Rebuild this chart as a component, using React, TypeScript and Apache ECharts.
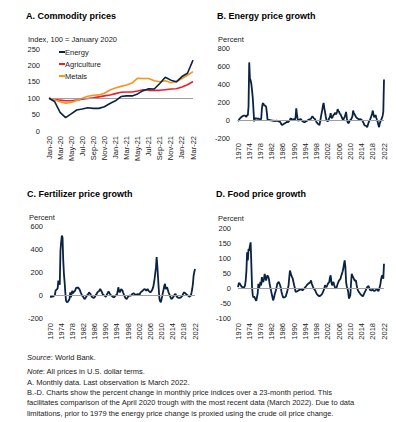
import React, { useEffect, useRef } from "react";
import * as echarts from "echarts";

// Panel A: monthly, Jan-20 .. Mar-22
const monthsA = [
  "Jan-20", "Feb-20", "Mar-20", "Apr-20", "May-20", "Jun-20", "Jul-20", "Aug-20", "Sep-20", "Oct-20", "Nov-20", "Dec-20",
  "Jan-21", "Feb-21", "Mar-21", "Apr-21", "May-21", "Jun-21", "Jul-21", "Aug-21", "Sep-21", "Oct-21", "Nov-21", "Dec-21",
  "Jan-22", "Feb-22", "Mar-22",
];
const energyA = [100, 90, 57, 41, 52, 64, 67, 71, 69, 69, 74, 84, 92, 105, 107, 107, 113, 123, 129, 128, 145, 164, 155, 150, 166, 176, 216];
const agricultureA = [100, 97, 94, 92, 92, 94, 97, 99, 101, 104, 107, 110, 114, 118, 119, 119, 122, 126, 124, 124, 124, 126, 128, 129, 134, 141, 151];
const metalsA = [100, 95, 89, 85, 87, 93, 100, 106, 109, 110, 115, 125, 131, 136, 140, 146, 161, 160, 160, 153, 150, 153, 147, 150, 160, 170, 181];

// Panels B-D: quarterly, 1970Q1 .. 2022Q1 (percent change over 23 months)
const startYear = 1970;
const endYear = 2022;

const energyGrowth = [
  -10, -5, 10, 20, 25, 35, 40, 45, 45, 50, 48, 40, 35, 55, 50, 150,
  640, 460, 440, 400, 330, 250, 120, -15, 10, 20, 18, 15, 12, 15, 12, 10,
  10, 8, 120, 180, 185, 170, 160, 155, 150, 90, 10, 0, 0, 2, -5, -5,
  -5, -8, -10, -8, -10, -12, -10, -8, -10, -12, -15, -15, -20, -35, -50, -55,
  -50, -45, -40, -35, -30, -25, -20, -25, -20, -10, 0, 20, 10, 5, 0, 10,
  5, 0, 30, 130, 60, 10, -10, 0, 5, 10, 5, -5, -15, -20, -20, -25,
  -20, -15, -10, -5, 0, 5, 5, 10, 15, 30, 40, 30, 20, 15, 5, -10,
  -25, -35, -45, -50, -55, -20, 30, 70, 110, 160, 190, 130, 90, 40, 0, -10,
  -15, 0, 20, 35, 75, 30, 20, 40, 55, 60, 80, 70, 65, 90, 120, 100,
  90, 70, 65, 45, 30, 10, 0, 20, 35, 60, 90, 20, -20, -35, -30, -10,
  0, 5, 5, 40, 105, 80, 65, 50, 37, 25, 20, 15, 8, 5, 10, 8,
  0, -5, -20, -35, -55, -60, -65, -70, -80, -55, -30, -10, 0, 20, 45, 70,
  105, 60, 30, 40, 55, 25, 0, -20, -55, -80, -35, -15, 0, 20, 45, 90,
  450,
];

const fertilizerGrowth = [
  -15, -15, -15, -12, -15, -10, -5, 0, 38, 45, 50, 60, 125, 110, 90, 385,
  460, 516, 500, 300, 183, 110, 20, -50, -60, -63, -55, -45, -35, 23, -20, 10,
  38, 15, 25, 30, 38, 55, 67, 60, 67, 60, 52, 40, 23, 10, -5, -10,
  -20, -30, -35, -25, -15, -5, 3, 10, 23, 15, 10, -5, -15, -20, -25, -25,
  -20, -10, 3, 10, 23, 28, 32, 40, 52, 40, 32, 15, 3, 0, -5, -10,
  -15, -5, 10, 20, 32, 20, 10, 0, -5, -10, -15, -18, -20, -12, -5, 0,
  3, 30, 67, 40, 23, 35, 52, 45, 38, 20, 3, -10, -25, -30, -35, -25,
  -15, -10, -5, -5, -5, 0, 10, 12, 15, 10, 3, 3, 3, 5, 10, 3,
  -5, 10, 23, 28, 32, 38, 45, 50, 52, 45, 38, 45, 52, 40, 32, 28,
  23, 30, 38, 50, 67, 100, 140, 190, 240, 330, 250, 150, 52, -35, -55, -64,
  -35, -10, 23, 50, 81, 96, 52, 60, 67, 45, 23, 10, -5, -20, -35, -30,
  -25, -15, -5, 5, 10, -5, -15, -20, -25, -25, -25, -22, -20, -12, -5, 10,
  23, 20, 15, 10, 3, 0, -5, -10, -15, -10, -5, 20, 52, 96, 168, 200,
  226,
];

const foodGrowth = [
  3, 14, 17, 12, 9, 5, 3, 2, 1, 3, 9, 25, 58, 119, 92, 130,
  125, 141, 152, 80, 3, -24, -32, -28, -28, -39, -43, -30, -19, 14, -2, 10,
  20, 9, 36, 25, 20, 31, 47, 35, 25, 35, 42, 38, 31, 15, 3, -8,
  -19, -30, -41, -35, -24, -15, -8, 3, 14, 18, 20, 15, 9, 0, -13, -22,
  -30, -32, -32, -30, -28, -20, -13, -3, 9, 35, 58, 50, 42, 36, 31, 20,
  9, 0, -13, -12, -11, -10, -8, -7, -6, -5, -4, -6, -8, -5, -2, 0,
  3, 6, 9, 12, 14, 16, 17, 20, 25, 15, 9, 3, -2, -5, -8, -14,
  -19, -22, -24, -26, -28, -26, -24, -22, -19, -14, -8, 0, 9, 5, 3, 8,
  14, 17, 20, 35, 42, 20, 9, 15, 20, 10, 3, 0, -2, 6, 14, 20,
  25, 28, 31, 40, 47, 55, 64, 80, 92, 70, 20, 5, -2, -13, -35, -30,
  -24, 14, 47, 40, 36, 31, 25, 25, 25, 10, -2, -8, -13, -16, -19, -22,
  -24, -26, -28, -22, -17, -12, -8, -2, 3, 5, 6, 0, -6, -7, -8, -7,
  -6, -8, -10, -9, -8, -5, -2, -6, -11, -4, 3, 15, 31, 40, 42, 31,
  81,
];

const quarters: string[] = [];
for (let y = startYear; y <= endYear; y++) {
  for (let q = 1; q <= 4; q++) {
    if (y === endYear && q > 1) break;
    quarters.push(`${y}Q${q}`);
  }
}

const FONT = "Liberation Sans, Arial, Helvetica, sans-serif";
const NAVY = "#0B2343";
const RED = "#E8202E";
const ORANGE = "#F7941D";
const GRAY = "#9E9E9E";
const TXT = "#1a1a1a";

function yAxisCfg(gridIndex: number, min: number, max: number, interval: number, margin: number) {
  return {
    type: "value",
    gridIndex,
    min,
    max,
    interval,
    axisLine: { show: false },
    axisTick: { show: false },
    splitLine: { show: false },
    axisLabel: { fontSize: 7.5, color: TXT, fontFamily: FONT, margin },
  };
}

function xAxisQuarterCfg(gridIndex: number) {
  return {
    type: "category",
    gridIndex,
    data: quarters,
    boundaryGap: false,
    axisLine: { show: false, onZero: false },
    axisTick: { show: false },
    axisLabel: {
      interval: 15,
      rotate: 90,
      fontSize: 7.5,
      color: TXT,
      fontFamily: FONT,
      margin: 5,
      formatter: (v: string) => v.slice(0, 4),
    },
  };
}

function refLine(value: number) {
  return {
    silent: true,
    symbol: "none",
    label: { show: false },
    lineStyle: { color: GRAY, width: 1, type: "solid" },
    data: [{ yAxis: value }],
  };
}

function growthSeries(idx: number, data: number[]) {
  return {
    type: "line",
    xAxisIndex: idx,
    yAxisIndex: idx,
    data,
    showSymbol: false,
    lineStyle: { color: NAVY, width: 1.8 },
    itemStyle: { color: NAVY },
    markLine: refLine(0),
    z: 3,
  };
}

function txt(x: number, y: number, text: string, size: number, bold = false) {
  return {
    type: "text",
    x,
    y,
    style: {
      text,
      fontSize: size,
      fontWeight: bold ? "bold" : "normal",
      fontFamily: FONT,
      fill: bold ? "#000" : TXT,
      textVerticalAlign: "middle",
    },
  };
}

function richTxt(x: number, y: number, italic: string, rest: string) {
  return {
    type: "text",
    x,
    y,
    style: {
      text: `{i|${italic}}{n|${rest}}`,
      fontFamily: FONT,
      fontSize: 7.5,
      fill: TXT,
      textVerticalAlign: "middle",
      rich: {
        i: { fontStyle: "italic", fontSize: 7.5, fontFamily: FONT, fill: TXT },
        n: { fontSize: 7.5, fontFamily: FONT, fill: TXT },
      },
    },
  };
}

export default function App() {
  const ref = useRef<HTMLDivElement>(null);

  useEffect(() => {
    if (!ref.current) return;
    const chart = echarts.init(ref.current, undefined, { renderer: "svg" });
    const option: any = {
      animation: false,
      backgroundColor: "#ffffff",
      textStyle: { fontFamily: FONT },
      grid: [
        { left: 49, width: 144, top: 49, height: 82 },
        { left: 238, width: 146, top: 48, height: 90 },
        { left: 50, width: 145, top: 226, height: 92 },
        { left: 238, width: 146, top: 228, height: 90 },
      ],
      xAxis: [
        {
          type: "category",
          gridIndex: 0,
          data: monthsA,
          boundaryGap: false,
          axisLine: { show: false, onZero: false },
          axisTick: { show: false },
          axisLabel: { interval: 1, rotate: 90, fontSize: 7.5, color: TXT, fontFamily: FONT, margin: 5 },
        },
        xAxisQuarterCfg(1),
        xAxisQuarterCfg(2),
        xAxisQuarterCfg(3),
      ],
      yAxis: [
        yAxisCfg(0, 0, 250, 50, 9),
        yAxisCfg(1, -200, 800, 200, 8),
        yAxisCfg(2, -200, 600, 200, 7),
        yAxisCfg(3, -100, 200, 50, 7),
      ],
      legend: {
        orient: "vertical",
        left: 54,
        top: 43,
        itemWidth: 6,
        itemHeight: 2,
        itemGap: 4,
        icon: "rect",
        textStyle: { fontSize: 7.5, color: TXT, fontFamily: FONT, padding: [0, 0, 0, -5] },
        data: ["Energy", "Agriculture", "Metals"],
      },
      series: [
        {
          name: "Energy",
          type: "line",
          xAxisIndex: 0,
          yAxisIndex: 0,
          data: energyA,
          showSymbol: false,
          lineStyle: { color: NAVY, width: 1.6 },
          itemStyle: { color: NAVY },
          markLine: refLine(100),
          z: 5,
        },
        {
          name: "Agriculture",
          type: "line",
          xAxisIndex: 0,
          yAxisIndex: 0,
          data: agricultureA,
          showSymbol: false,
          lineStyle: { color: RED, width: 1.6 },
          itemStyle: { color: RED },
          z: 3,
        },
        {
          name: "Metals",
          type: "line",
          xAxisIndex: 0,
          yAxisIndex: 0,
          data: metalsA,
          showSymbol: false,
          lineStyle: { color: ORANGE, width: 1.6 },
          itemStyle: { color: ORANGE },
          z: 4,
        },
        growthSeries(1, energyGrowth),
        growthSeries(2, fertilizerGrowth),
        growthSeries(3, foodGrowth),
      ],
      graphic: [
        txt(26, 16, "A. Commodity prices", 9, true),
        txt(217, 16, "B. Energy price growth", 9, true),
        txt(27, 194, "C. Fertilizer price growth", 9, true),
        txt(216, 194, "D. Food price growth", 9, true),
        txt(28, 39, "Index, 100 = January 2020", 7.5),
        txt(218, 39, "Percent", 7.5),
        txt(29, 217, "Percent", 7.5),
        txt(218, 218, "Percent", 7.5),
        richTxt(27, 357, "Source", ": World Bank."),
        richTxt(27, 371, "Note", ": All prices in U.S. dollar terms."),
        txt(27, 382, "A. Monthly data. Last observation is March 2022.", 7.5),
        txt(27, 392, "B.-D. Charts show the percent change in monthly price indices over a 23-month period. This", 7.5),
        txt(27, 402, "facilitates comparison of the April 2020 trough with the most recent data (March 2022). Due to data", 7.5),
        txt(27, 413, "limitations, prior to 1979 the energy price change is proxied using the crude oil price change.", 7.5),
      ],
    };
    chart.setOption(option);
    return () => chart.dispose();
  }, []);

  return (
    <div
      ref={ref}
      style={{ position: "absolute", left: 0, top: 0, width: 396, height: 422, background: "#fff" }}
    />
  );
}
